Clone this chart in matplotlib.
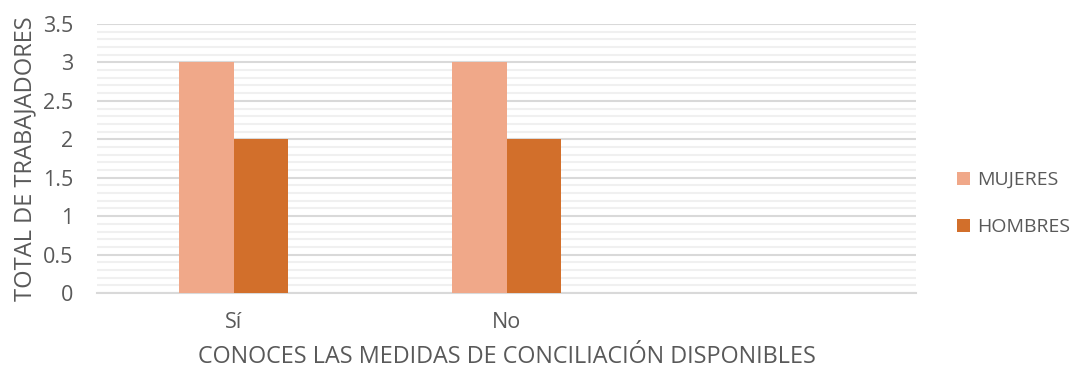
import numpy as np
import matplotlib.pyplot as plt
from matplotlib.ticker import MultipleLocator

categorias = ["Sí", "No", ""]
mujeres = [3, 3, 0]
hombres = [2, 2, 0]

plt.rcParams['font.family'] = ['Open Sans', 'DejaVu Sans']
gris = "#595959"

fig = plt.figure(figsize=(10.79, 3.72), dpi=100)
ax = fig.add_axes([0.0899, 0.2124, 0.7591, 0.7231])

x = np.arange(len(categorias))
ancho = 0.2
ax.bar(x - ancho / 2, mujeres, ancho, color="#F0A889", label="MUJERES", zorder=3)
ax.bar(x + ancho / 2, hombres, ancho, color="#D26F2B", label="HOMBRES", zorder=3)

ax.set_xlim(-0.5, 2.5)
ax.set_ylim(0, 3.5)
ax.yaxis.set_major_locator(MultipleLocator(0.5))
ax.yaxis.set_minor_locator(MultipleLocator(0.1))
ax.yaxis.set_major_formatter(plt.FuncFormatter(lambda v, p: f"{v:g}"))
ax.set_xticks(x)
ax.set_xticklabels(categorias)

ax.grid(axis="y", which="major", color="#D9D9D9", linewidth=1.5, zorder=0)
ax.grid(axis="y", which="minor", color="#F0F0F0", linewidth=1.5, zorder=0)
for lado in ["left", "right", "top"]:
    ax.spines[lado].set_visible(False)
ax.spines["bottom"].set_color("#D9D9D9")
ax.spines["bottom"].set_linewidth(1.5)

ax.tick_params(axis="both", which="both", length=0, labelsize=15.5, labelcolor=gris)
ax.tick_params(axis="x", pad=14)
ax.tick_params(axis="y", pad=17)

ax.set_xlabel("CONOCES LAS MEDIDAS DE CONCILIACIÓN DISPONIBLES", fontsize=16.8, color=gris, labelpad=8)
ax.set_ylabel("TOTAL DE TRABAJADORES", fontsize=17, color=gris, labelpad=4)

fig.legend(loc="center left", bbox_to_anchor=(0.887, 0.453), frameon=False, fontsize=14,
           labelcolor=gris, handlelength=0.65, handleheight=0.65, labelspacing=1.5,
           handletextpad=0.4, borderpad=0, borderaxespad=0)

fig.savefig("out.png", dpi=100)
